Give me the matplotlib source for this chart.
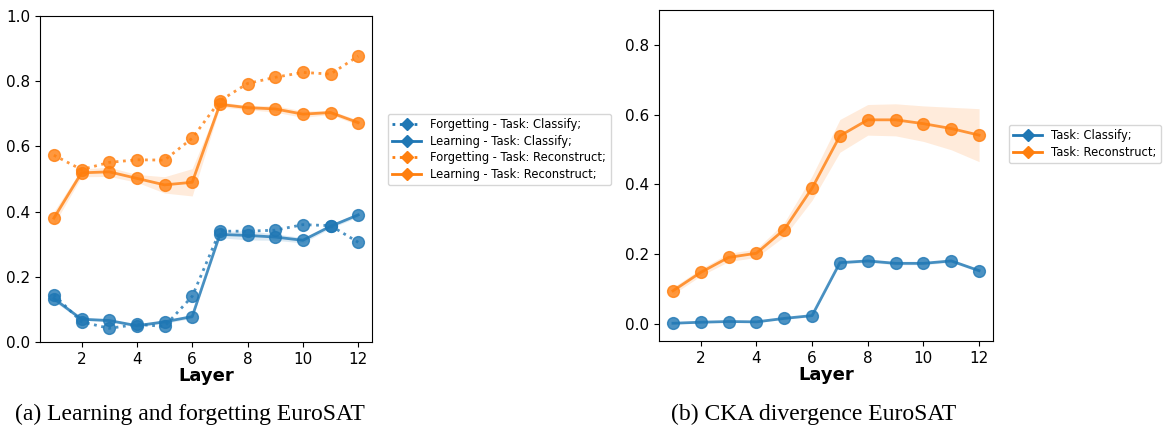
import matplotlib.pyplot as plt
from matplotlib.lines import Line2D

layers = list(range(1, 13))

# (a) learning / forgetting
forget_cls = [0.145, 0.062, 0.042, 0.054, 0.048, 0.140, 0.340, 0.340, 0.343, 0.360, 0.357, 0.306]
learn_cls = [0.133, 0.070, 0.066, 0.050, 0.062, 0.078, 0.330, 0.327, 0.322, 0.312, 0.355, 0.390]
learn_cls_std = [0.008, 0.004, 0.004, 0.004, 0.005, 0.005, 0.010, 0.014, 0.010, 0.008, 0.006, 0.006]
forget_rec = [0.573, 0.529, 0.551, 0.559, 0.558, 0.625, 0.740, 0.793, 0.812, 0.827, 0.822, 0.877]
learn_rec = [0.380, 0.519, 0.522, 0.502, 0.482, 0.490, 0.729, 0.719, 0.715, 0.699, 0.704, 0.673]
learn_rec_std = [0.020, 0.012, 0.014, 0.012, 0.025, 0.042, 0.008, 0.006, 0.010, 0.010, 0.006, 0.008]

# (b) CKA divergence
cka_cls = [0.001, 0.004, 0.006, 0.005, 0.015, 0.023, 0.175, 0.180, 0.173, 0.173, 0.180, 0.152]
cka_cls_std = [0.002, 0.002, 0.002, 0.002, 0.003, 0.003, 0.004, 0.004, 0.004, 0.004, 0.004, 0.004]
cka_rec = [0.094, 0.147, 0.190, 0.202, 0.270, 0.389, 0.539, 0.585, 0.585, 0.574, 0.560, 0.541]
cka_rec_std = [0.010, 0.010, 0.012, 0.012, 0.020, 0.035, 0.047, 0.044, 0.046, 0.051, 0.061, 0.076]

blue = '#1f77b4'
orange = '#ff7f0e'

fig = plt.figure(figsize=(11.67, 4.32), dpi=100)
ax1 = fig.add_axes([0.0343, 0.2083, 0.2845, 0.7546])
ax2 = fig.add_axes([0.5647, 0.2106, 0.2862, 0.7660])


def band(ax, y, s, c):
    lo = [a - b for a, b in zip(y, s)]
    hi = [a + b for a, b in zip(y, s)]
    ax.fill_between(layers, lo, hi, color=c, alpha=0.15, lw=0)


def series(ax, y, c, ls):
    ax.plot(layers, y, color=c, ls=ls, lw=2, marker='o', ms=8.5, alpha=0.8)


band(ax1, learn_cls, learn_cls_std, blue)
band(ax1, learn_rec, learn_rec_std, orange)
series(ax1, forget_cls, blue, ':')
series(ax1, learn_cls, blue, '-')
series(ax1, forget_rec, orange, ':')
series(ax1, learn_rec, orange, '-')
ax1.set_ylim(0, 1.0)
ax1.set_xlim(0.5, 12.5)

band(ax2, cka_cls, cka_cls_std, blue)
band(ax2, cka_rec, cka_rec_std, orange)
series(ax2, cka_cls, blue, '-')
series(ax2, cka_rec, orange, '-')
ax2.set_ylim(-0.05, 0.9)
ax2.set_xlim(0.5, 12.5)
ax2.set_yticks([0.0, 0.2, 0.4, 0.6, 0.8])

for ax in (ax1, ax2):
    ax.set_xticks([2, 4, 6, 8, 10, 12])
    ax.tick_params(labelsize=11)
    ax.set_xlabel('Layer', fontsize=13, fontweight='bold', labelpad=0)


def handle(c, ls):
    return Line2D([0], [0], color=c, ls=ls, lw=2, marker='D', ms=6.5)


ax1.legend([handle(blue, ':'), handle(blue, '-'), handle(orange, ':'), handle(orange, '-')],
           ['Forgetting - Task: Classify;', 'Learning - Task: Classify;',
            'Forgetting - Task: Reconstruct;', 'Learning - Task: Reconstruct;'],
           loc='center left', bbox_to_anchor=(1.03, 0.59), fontsize=8.3,
           handlelength=2.5, labelspacing=0.3)
ax2.legend([handle(blue, '-'), handle(orange, '-')],
           ['Task: Classify;', 'Task: Reconstruct;'],
           loc='center left', bbox_to_anchor=(1.03, 0.595), fontsize=8.3,
           handlelength=2.5, labelspacing=0.3)

fig.text(0.163, 0.04, '(a) Learning and forgetting EuroSAT', ha='center', va='center',
         family='Liberation Serif', fontsize=17)
fig.text(0.697, 0.04, '(b) CKA divergence EuroSAT', ha='center', va='center',
         family='Liberation Serif', fontsize=17)

fig.savefig('out.png', dpi=100)
